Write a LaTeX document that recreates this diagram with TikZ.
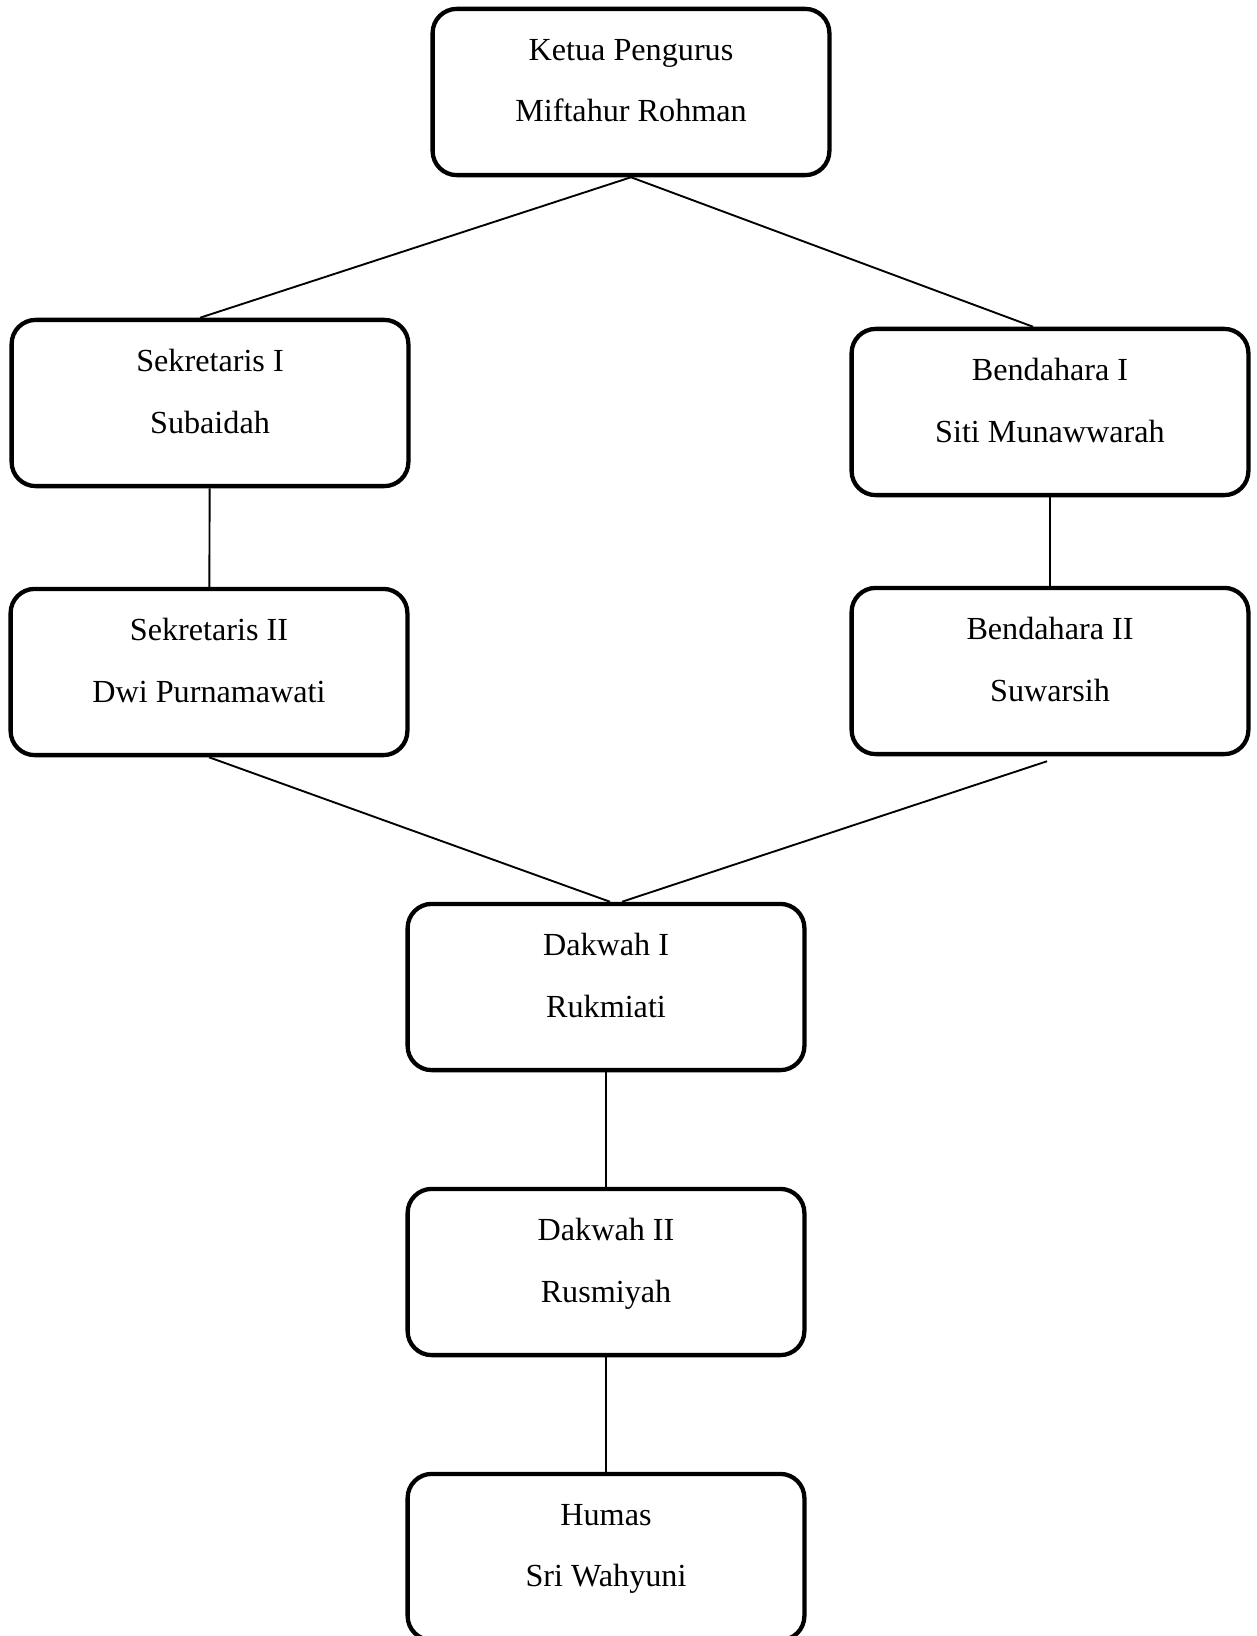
\documentclass[tikz,border=0pt]{standalone}
\usepackage{fontspec}
\setmainfont{Liberation Serif}
\usepackage{tikz}
\usetikzlibrary{positioning}
\usetikzlibrary{calc}

\begin{document}
\begin{tikzpicture}[
    x=0.373pt, y=-0.373pt,
    font=\fontsize{12pt}{23pt}\selectfont,
    box/.style={
        draw=black,
        line width=1.6pt,
        rounded corners=9pt,
        minimum width=148pt,
        minimum height=62pt,
        align=center,
        text depth=8.5pt
    },
    conn/.style={
        draw=black,
        line width=0.7pt
    }
]
\useasboundingbox (0,0) rectangle (1256,1636);

% --- Top
\node[box] (ketua) at (631,92) {Ketua Pengurus\\Miftahur Rohman};

% --- Left
\node[box] (sekretaris1) at (210,403) {Sekretaris I\\Subaidah};
\node[box] (sekretaris2) at (209,672) {Sekretaris II\\Dwi Purnamawati};

% --- Right
\node[box] (bendahara1) at (1050,412) {Bendahara I\\Siti Munawwarah};
\node[box] (bendahara2) at (1050,671) {Bendahara II\\Suwarsih};

% --- Bottom
\node[box] (dakwah1) at (606,987) {Dakwah I\\Rukmiati};
\node[box] (dakwah2) at (606,1272) {Dakwah II\\Rusmiyah};
\node[box] (humas) at (606,1557) {Humas\\Sri Wahyuni};

% --- Connections
\draw[conn] (ketua.south) -- ($(sekretaris1.north)+(-10,0)$);
\draw[conn] (ketua.south) -- ($(bendahara1.north)+(-17,0)$);
\draw[conn] (sekretaris1) -- (sekretaris2);
\draw[conn] (bendahara1) -- (bendahara2);
\draw[conn] (sekretaris2.south) -- ($(dakwah1.north)+(4,0)$);
\draw[conn] ($(bendahara2.south)+(-3,5)$) -- ($(dakwah1.north)+(16,0)$);
\draw[conn] (dakwah1) -- (dakwah2);
\draw[conn] (dakwah2) -- (humas);

\end{tikzpicture}
\end{document}
